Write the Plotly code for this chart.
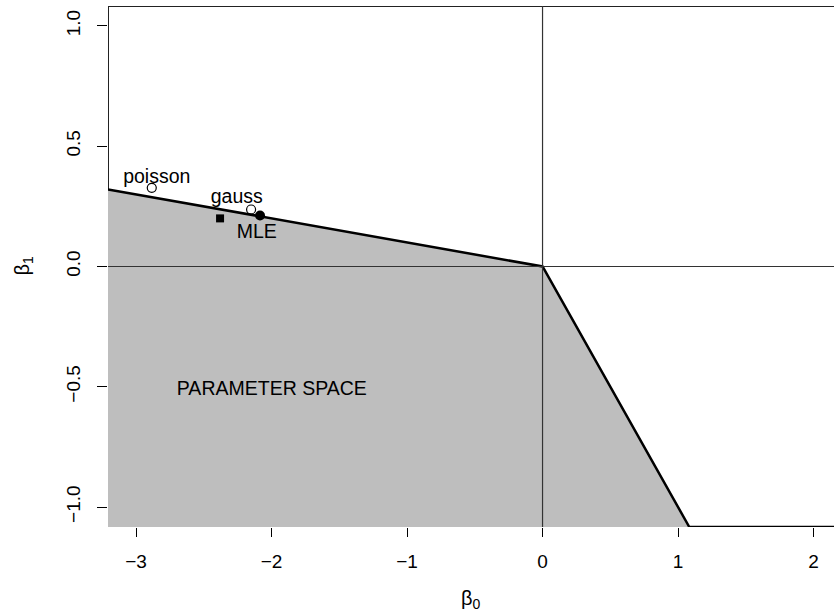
import plotly.graph_objects as go

# ---- data ----
x_range = [-3.207, 2.151]
y_range = [-1.083, 1.083]

# boundary of the parameter space (beta0, beta1)
boundary_b0 = [-3.207, 0.0, 1.083, 2.151]
boundary_b1 = [0.3207, 0.0, -1.083, -1.083]

# estimates
poisson_pt = (-2.884, 0.327)
gauss_pt = (-2.151, 0.237)
mle_pt = (-2.085, 0.212)
square_pt = (-2.380, 0.200)

labels = ["poisson", "gauss", "MLE", "PARAMETER SPACE"]
label_b0 = [-2.847, -2.257, -2.109, -1.998]
label_b1 = [0.368, 0.284, 0.139, -0.512]

x_ticks = [-3, -2, -1, 0, 1, 2]
y_ticks = [-1.0, -0.5, 0.0, 0.5, 1.0]
y_ticktext = ["\u22121.0", "\u22120.5", "0.0", "0.5", "1.0"]
x_ticktext = ["\u22123", "\u22122", "\u22121", "0", "1", "2"]

FONT = "Liberation Sans, Arial, Helvetica, sans-serif"

fig = go.Figure()

# gray parameter space polygon
poly_x = boundary_b0[:3] + [x_range[0], x_range[0]]
poly_y = boundary_b1[:3] + [y_range[0], boundary_b1[0]]
fig.add_trace(go.Scatter(x=poly_x, y=poly_y, mode="lines", fill="toself",
                         fillcolor="#BEBEBE", line=dict(width=0),
                         hoverinfo="skip", showlegend=False))

# outline: left edge + top edge (white region border)
fig.add_trace(go.Scatter(x=[x_range[0], x_range[0], x_range[1]],
                         y=[boundary_b1[0], y_range[1], y_range[1]],
                         mode="lines", line=dict(color="#222222", width=2),
                         hoverinfo="skip", showlegend=False))

# boundary
fig.add_trace(go.Scatter(x=boundary_b0, y=boundary_b1, mode="lines",
                         line=dict(color="black", width=2.5),
                         hoverinfo="skip", showlegend=False))

# points
fig.add_trace(go.Scatter(x=[poisson_pt[0], gauss_pt[0]], y=[poisson_pt[1], gauss_pt[1]],
                         mode="markers",
                         marker=dict(symbol="circle-open", size=9, color="black",
                                     line=dict(width=1.2)),
                         showlegend=False))
fig.add_trace(go.Scatter(x=[mle_pt[0]], y=[mle_pt[1]], mode="markers",
                         marker=dict(symbol="circle", size=10, color="black"),
                         showlegend=False))
fig.add_trace(go.Scatter(x=[square_pt[0]], y=[square_pt[1]], mode="markers",
                         marker=dict(symbol="square", size=8, color="black"),
                         showlegend=False))

# labels
fig.add_trace(go.Scatter(x=label_b0, y=label_b1, mode="text", text=labels,
                         textfont=dict(family=FONT, size=19.5, color="black"),
                         textposition="middle center", showlegend=False))

# reference lines at 0
fig.add_shape(type="line", x0=0, x1=0, y0=0, y1=1, xref="x", yref="y domain",
              line=dict(color="#333333", width=1.2), layer="above")
fig.add_shape(type="line", x0=0, x1=1, y0=0, y1=0, xref="x domain", yref="y",
              line=dict(color="#333333", width=1.2), layer="above")

fig.update_layout(
    width=834, height=613,
    margin=dict(l=108, r=0, t=6, b=86),
    plot_bgcolor="white", paper_bgcolor="white",
    font=dict(family=FONT, size=19, color="black"),
    xaxis=dict(range=x_range, showgrid=False, zeroline=False, showline=False,
               tickmode="array", tickvals=x_ticks, ticktext=x_ticktext,
               ticks="outside", ticklen=9, tickwidth=1, tickcolor="black",
               ticklabelstandoff=8, tickfont=dict(size=19)),
    yaxis=dict(range=y_range, showgrid=False, zeroline=False, showline=False,
               tickmode="array", tickvals=y_ticks, ticktext=y_ticktext,
               ticks="outside", ticklen=10, tickwidth=1, tickcolor="black",
               tickangle=-90, ticklabelstandoff=9, tickfont=dict(size=19)),
    annotations=[
        dict(text="\u03b2<sub>0</sub>", xref="paper", yref="paper", x=0.5, y=-0.14,
             showarrow=False, font=dict(size=20), xanchor="center", yanchor="middle"),
        dict(text="\u03b2<sub>1</sub>", xref="paper", yref="paper", x=-0.117, y=0.502,
             showarrow=False, font=dict(size=20), textangle=-90,
             xanchor="center", yanchor="middle"),
    ],
)

fig.write_html("out.html", config={"displayModeBar": False},
               post_script="document.body.style.margin='0';document.body.style.overflow='hidden';")
